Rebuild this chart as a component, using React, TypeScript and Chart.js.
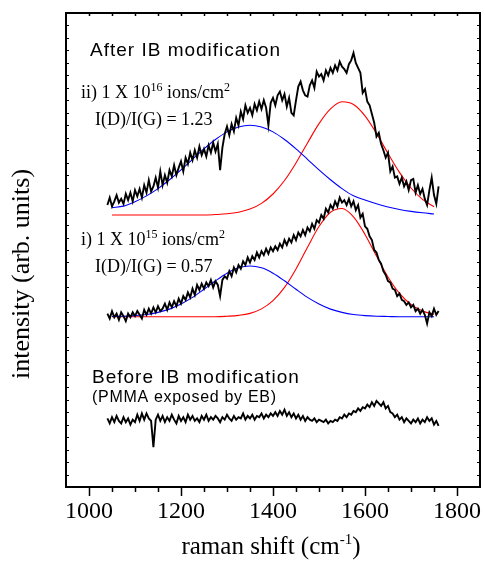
import { useEffect, useRef } from "react";
import { Chart, registerables } from "chart.js";

Chart.register(...registerables);

// ---------- axis settings ----------
const X_MIN = 950;
const X_MAX = 1850;
const Y_MIN = 0;
const Y_MAX = 38;
const X_TICKS = [1000, 1200, 1400, 1600, 1800];

// ---------- measured spectra (1040 .. 1760 cm-1, every 5 cm-1) ----------
const SPEC_START = 1040;
const SPEC_STEP = 5;

// ii) 1 x 10^16 ions/cm2
const spectrumII = [
  22.6, 23.2, 22.5, 22.9, 23.4, 22.8, 23.1, 22.7, 23.5, 23.0,
  23.6, 22.9, 23.8, 23.3, 23.9, 23.2, 24.2, 23.6, 24.6, 23.7,
  24.1, 24.8, 24.0, 25.3, 24.2, 25.0, 24.4, 25.4, 24.9, 25.8,
  25.0, 25.6, 26.1, 25.3, 26.4, 25.9, 26.8, 26.2, 27.0, 26.4,
  27.3, 26.6, 27.1, 26.5, 27.4, 26.8, 27.6, 26.9, 27.5, 25.4,
  27.2, 28.3, 28.9, 28.2, 29.1, 28.5, 29.6, 29.0, 30.1, 29.5,
  30.6, 30.0, 30.4, 29.8, 30.7, 30.2, 30.9, 30.3, 31.0, 30.4,
  29.0, 30.8, 31.2, 30.6, 31.4, 31.7, 31.0, 31.5, 30.5, 31.2,
  30.0, 29.8, 31.0, 32.1, 32.5, 31.8, 31.4, 31.3, 32.2, 32.6,
  32.0, 33.3, 32.9, 33.1, 32.6, 33.4, 33.0, 33.6, 33.2, 33.8,
  33.4, 34.1, 33.7, 33.5, 33.2, 33.9, 34.2, 34.8, 34.0, 33.6,
  33.2, 31.6, 31.9, 30.9, 30.6, 29.9, 29.2, 28.1, 28.4, 27.5,
  27.0, 26.4, 26.8, 25.3, 25.7, 24.8, 24.9, 24.3, 24.8, 24.1,
  24.5, 23.8, 24.6, 24.7, 23.6, 24.2, 23.5, 23.9, 23.1, 22.6,
  23.8, 24.8, 23.4, 22.7, 24.1,
];

// i) 1 x 10^15 ions/cm2
const spectrumI = [
  13.9, 13.5, 14.1, 13.6, 13.9, 13.4, 14.0, 13.7, 13.3, 13.9,
  13.6, 14.0, 13.7, 14.1, 13.8, 13.5, 14.2, 13.8, 14.3, 13.9,
  14.4, 14.0, 14.5, 14.1, 14.3, 14.7, 14.2, 14.8, 14.4, 14.9,
  14.5, 15.1, 14.7, 15.3, 15.0, 15.6, 15.2, 15.9, 15.4, 16.2,
  15.8, 16.3, 15.9, 16.4, 16.1, 16.6, 16.0, 16.5, 16.2, 15.3,
  16.6, 16.9, 16.7, 17.3, 16.9, 17.6, 17.2, 17.8, 17.5, 18.1,
  17.8, 18.4, 18.0, 18.5, 18.2, 18.8, 18.4, 18.9, 18.6, 19.1,
  18.7, 19.2, 18.9, 19.3, 19.0, 19.5, 19.2, 19.8, 19.4, 19.9,
  19.6, 20.2, 19.8, 20.4, 20.1, 20.6, 20.2, 20.8, 20.5, 21.1,
  20.7, 21.4, 21.2, 21.8, 21.5, 22.3, 22.0, 22.6, 22.3, 22.9,
  22.5, 23.2, 22.8, 23.0, 22.6, 23.1, 22.5, 22.9, 22.2, 22.6,
  21.6, 21.9, 20.9, 20.7, 20.1, 19.8, 19.0, 18.8, 18.2, 17.9,
  17.3, 17.0, 16.5, 16.4, 15.9, 15.8, 15.3, 15.5, 15.0, 14.9,
  14.6, 14.8, 14.4, 14.6, 14.1, 14.3, 13.9, 14.2, 13.8, 13.1,
  14.0, 13.7, 14.3, 13.8, 14.1,
];

// before IB modification (PMMA exposed by EB)
const spectrumPMMA = [
  5.5, 5.1, 5.6, 5.2, 5.7, 5.3, 5.1, 5.6, 5.2, 5.5,
  5.0, 5.4, 5.2, 5.8, 5.3, 5.9, 5.4, 5.9, 5.5, 5.3,
  3.2, 5.4, 5.8, 5.3, 5.7, 5.2, 5.6, 5.3, 5.8, 5.4,
  5.1, 5.7, 5.3, 5.6, 5.2, 5.8, 5.4, 5.7, 5.3, 5.5,
  5.2, 5.7, 5.4, 5.8, 5.3, 5.6, 5.4, 5.7, 5.5, 5.2,
  5.6, 5.4, 5.8, 5.5, 5.3, 5.7, 5.4, 5.6, 5.5, 5.9,
  5.4, 5.7, 5.5, 5.8, 5.4, 5.7, 5.6, 5.9, 5.5, 5.8,
  5.6, 5.9, 5.7, 6.0, 5.7, 6.1, 5.8, 6.2, 5.7, 6.0,
  5.6, 5.9, 5.5, 5.8, 5.4, 5.7, 5.3, 5.6, 5.4, 5.3,
  5.5, 5.2, 5.4, 5.3, 5.2, 5.4, 5.1, 5.3, 5.2, 5.4,
  5.3, 5.6, 5.5, 5.8, 5.6, 5.9, 5.8, 6.1, 6.0, 6.3,
  6.1, 6.4, 6.3, 6.6, 6.4, 6.8, 6.5, 6.9, 6.7, 6.5,
  6.8, 6.3, 6.5, 6.0, 5.9, 5.6, 5.8, 5.4, 5.6, 5.2,
  5.5, 5.3, 5.1, 5.4, 5.2, 5.5, 5.1, 5.4, 5.2, 5.6,
  5.3, 5.5, 5.0, 5.3, 4.9,
];

// ---------- fitted bands (D: blue, G: red) ----------
const FIT_X = [
  1050, 1075, 1100, 1125, 1150, 1175, 1200, 1225, 1250, 1275,
  1300, 1325, 1350, 1375, 1400, 1425, 1450, 1475, 1500, 1525,
  1550, 1575, 1600, 1625, 1650, 1675, 1700, 1725, 1750,
];
const fitII_D = [
  22.4, 22.52, 22.87, 23.34, 23.92, 24.63, 25.42, 26.27, 27.11, 27.86,
  28.47, 28.86, 29.0, 28.86, 28.47, 27.86, 27.11, 26.27, 25.42, 24.63,
  23.92, 23.34, 23.0, 22.7, 22.45, 22.25, 22.1, 21.98, 21.88,
];
const fitII_G = [
  21.8, 21.8, 21.8, 21.8, 21.8, 21.8, 21.8, 21.8, 21.8, 21.84,
  21.9, 22.03, 22.28, 22.74, 23.49, 24.57, 25.98, 27.58, 29.13, 30.31,
  30.88, 30.67, 29.76, 28.35, 26.74, 25.22, 23.97, 23.06, 22.47,
];
const fitI_D = [
  13.67, 13.69, 13.74, 13.83, 14.0, 14.26, 14.67, 15.2, 15.85, 16.53,
  17.14, 17.57, 17.72, 17.57, 17.14, 16.53, 15.85, 15.2, 14.67, 14.26,
  14.0, 13.83, 13.74, 13.69, 13.67, 13.65, 13.65, 13.65, 13.65,
];
const fitI_G = [
  13.65, 13.65, 13.65, 13.65, 13.65, 13.65, 13.65, 13.65, 13.65, 13.65,
  13.69, 13.76, 13.92, 14.28, 14.94, 16.0, 17.48, 19.22, 20.88, 22.03,
  22.33, 21.66, 20.25, 18.51, 16.84, 15.52, 14.63, 14.11, 13.84,
];

const SERIF = '"Liberation Serif", "Times New Roman", serif';
const SANS = '"Liberation Sans", Arial, sans-serif';

const toSpec = (vals: number[]) => vals.map((y, i) => ({ x: SPEC_START + i * SPEC_STEP, y }));
const toFit = (vals: number[]) => vals.map((y, i) => ({ x: FIT_X[i], y }));

type Run = [string, string, number];
function drawRuns(ctx: CanvasRenderingContext2D, x: number, y: number, runs: Run[], align: "left" | "center" = "left") {
  let total = 0;
  for (const [t, f] of runs) {
    ctx.font = f;
    total += ctx.measureText(t).width;
  }
  let cx = align === "center" ? x - total / 2 : x;
  ctx.textAlign = "left";
  for (const [t, f, dy] of runs) {
    ctx.font = f;
    ctx.fillText(t, cx, y + dy);
    cx += ctx.measureText(t).width;
  }
}

const framePlugin = {
  id: "frameAndText",
  afterDraw(chart: any) {
    const ctx: CanvasRenderingContext2D = chart.ctx;
    const { left, right, top, bottom } = chart.chartArea;
    const xs = chart.scales.x;
    const ys = chart.scales.y;
    ctx.save();
    ctx.strokeStyle = "#000";
    ctx.fillStyle = "#000";
    ctx.lineWidth = 2;
    ctx.strokeRect(left, top, right - left, bottom - top);

    ctx.lineWidth = 1.5;
    ctx.beginPath();
    for (let v = X_MIN + 50; v < X_MAX; v += 50) {
      const px = Math.round(xs.getPixelForValue(v)) + 0.5;
      const major = X_TICKS.includes(v);
      ctx.moveTo(px, bottom);
      ctx.lineTo(px, bottom + (major ? 9 : 5));
      ctx.moveTo(px, top);
      ctx.lineTo(px, top + 3);
    }
    ctx.stroke();
    ctx.lineWidth = 1.2;
    ctx.beginPath();
    for (let v = Y_MIN + 1; v < Y_MAX; v += 1) {
      const py = Math.round(ys.getPixelForValue(v)) + 0.5;
      ctx.moveTo(left, py);
      ctx.lineTo(left + 3, py);
      ctx.moveTo(right, py);
      ctx.lineTo(right - 3, py);
    }
    ctx.stroke();

    // annotations
    ctx.textBaseline = "alphabetic";
    (ctx as any).letterSpacing = "1px";
    ctx.font = `19px ${SANS}`;
    ctx.fillText("After IB modification", 90, 56);
    ctx.fillText("Before IB modification", 92, 383);
    (ctx as any).letterSpacing = "0.7px";
    ctx.font = `16px ${SANS}`;
    ctx.fillText("(PMMA exposed by EB)", 92, 402);
    (ctx as any).letterSpacing = "0px";

    const big = `18px ${SERIF}`;
    const sup = `12px ${SERIF}`;
    drawRuns(ctx, 81, 98, [["ii) 1 X 10", big, 0], ["16", sup, -7], [" ions/cm", big, 0], ["2", sup, -7]]);
    drawRuns(ctx, 95, 125, [["I(D)/I(G) = 1.23", big, 0]]);
    drawRuns(ctx, 81, 245, [["i) 1 X 10", big, 0], ["15", sup, -7], [" ions/cm", big, 0], ["2", sup, -7]]);
    drawRuns(ctx, 95, 272, [["I(D)/I(G) = 0.57", big, 0]]);

    // axis titles
    drawRuns(ctx, 271, 554, [["raman shift (cm", `25px ${SERIF}`, 0], ["-1", `15px ${SERIF}`, -10], [")", `25px ${SERIF}`, 0]], "center");
    ctx.save();
    ctx.translate(29, 274);
    ctx.rotate(-Math.PI / 2);
    ctx.font = `26px ${SERIF}`;
    ctx.textAlign = "center";
    ctx.fillText("intensity (arb. units)", 0, 0);
    ctx.restore();
    ctx.restore();
  },
};

export default function App() {
  const ref = useRef<HTMLCanvasElement | null>(null);
  useEffect(() => {
    if (!ref.current) return;
    const black = (vals: number[]) => ({
      data: toSpec(vals),
      borderColor: "#000",
      borderWidth: 1.9,
      pointRadius: 0,
      tension: 0,
      fill: false,
    });
    const fit = (vals: number[], color: string) => ({
      data: toFit(vals),
      borderColor: color,
      borderWidth: 1.1,
      pointRadius: 0,
      cubicInterpolationMode: "monotone" as const,
      fill: false,
    });
    const chart = new Chart(ref.current, {
      type: "line",
      data: {
        datasets: [
          black(spectrumII),
          black(spectrumI),
          black(spectrumPMMA),
          fit(fitII_D, "#0000ff"),
          fit(fitII_G, "#ff0000"),
          fit(fitI_D, "#0000ff"),
          fit(fitI_G, "#ff0000"),
        ] as any,
      },
      options: {
        responsive: false,
        animation: false,
        parsing: false,
        layout: { padding: { top: 13, right: 5, left: 66, bottom: 0 } },
        plugins: { legend: { display: false }, tooltip: { enabled: false } },
        scales: {
          x: {
            type: "linear",
            min: X_MIN,
            max: X_MAX,
            position: "bottom",
            grid: { display: false, drawTicks: false },
            border: { display: false },
            ticks: {
              font: { family: SERIF, size: 24 },
              color: "#000",
              padding: 10,
              maxRotation: 0,
              autoSkip: false,
              callback: (v: any) => String(v),
            },
            afterBuildTicks: (s: any) => {
              s.ticks = X_TICKS.map((v) => ({ value: v }));
            },
            afterFit: (s: any) => {
              s.height = 80;
              s.paddingLeft = 0;
              s.paddingRight = 0;
            },
          },
          y: { type: "linear", min: Y_MIN, max: Y_MAX, display: false },
        },
      } as any,
      plugins: [framePlugin],
    });
    return () => chart.destroy();
  }, []);
  return (
    <div style={{ position: "fixed", left: 0, top: 0, width: 485, height: 567, background: "#fff" }}>
      <canvas ref={ref} width={485} height={567} style={{ width: 485, height: 567, display: "block" }} />
    </div>
  );
}
